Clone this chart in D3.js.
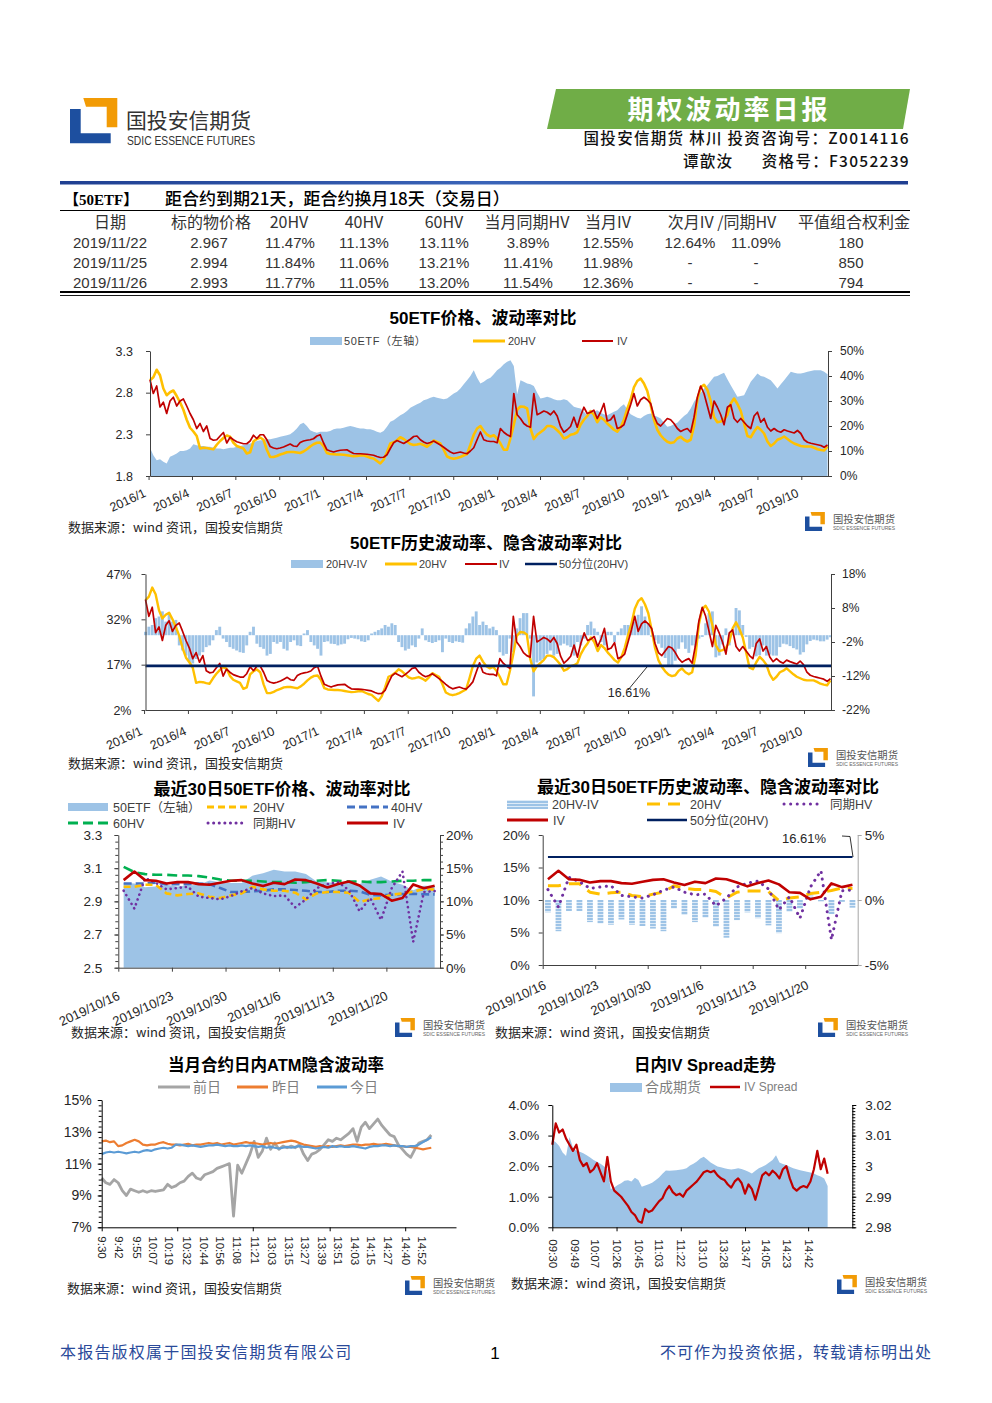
<!DOCTYPE html>
<html><head><meta charset="utf-8"><title>期权波动率日报</title>
<script src="https://cdn.jsdelivr.net/npm/d3@7"></script>
<style>html,body{margin:0;padding:0;background:#fff;}svg{display:block;}</style>
</head><body>
<svg id="page" width="992" height="1403" xmlns="http://www.w3.org/2000/svg"></svg>
<script>
// ================= DATA =================
const tableHeaders = ["日期","标的物价格","20HV","40HV","60HV","当月同期HV","当月IV","次月IV /同期HV","平值组合权利金"];
const tableDates = ["2019/11/22","2019/11/25","2019/11/26"];
const tablePrice = ["2.967","2.994","2.993"];
const tableHV20 = ["11.47%","11.84%","11.77%"];
const tableHV40 = ["11.13%","11.06%","11.05%"];
const tableHV60 = ["13.11%","13.21%","13.20%"];
const tableSameHV = ["3.89%","11.41%","11.54%"];
const tableIV = ["12.55%","11.98%","12.36%"];
const tableNextIV = ["12.64%","-","-"];
const tableNextSameHV = ["11.09%","-","-"];
const tablePremium = ["180","850","794"];

// long series (weekly samples from 2016-01-04)
const quarterTicks = ["2016/1","2016/4","2016/7","2016/10","2017/1","2017/4","2017/7","2017/10","2018/1","2018/4","2018/7","2018/10","2019/1","2019/4","2019/7","2019/10"];
const etfWeekly = [2.14,2.05,1.99,2.00,1.97,1.95,2.03,2.05,2.07,2.10,
 2.10,2.11,2.13,2.18,2.17,2.16,2.16,2.15,2.15,2.14,
 2.13,2.13,2.12,2.13,2.14,2.14,2.15,2.16,2.17,2.18,
 2.19,2.20,2.22,2.23,2.23,2.24,2.24,2.25,2.26,2.27,
 2.28,2.29,2.30,2.33,2.37,2.42,2.44,2.40,2.35,2.33,
 2.32,2.33,2.33,2.33,2.34,2.36,2.37,2.37,2.38,2.39,
 2.40,2.39,2.38,2.37,2.37,2.36,2.36,2.35,2.33,2.32,
 2.34,2.39,2.45,2.47,2.50,2.53,2.55,2.58,2.62,2.64,
 2.66,2.68,2.71,2.72,2.74,2.75,2.74,2.73,2.72,2.73,
 2.76,2.79,2.81,2.85,2.90,2.95,3.00,3.07,2.98,2.91,
 2.93,2.96,2.98,3.02,3.07,3.10,3.14,3.17,3.19,3.12,
 2.78,2.95,2.93,2.91,2.90,2.88,2.80,2.73,2.74,2.75,
 2.74,2.72,2.71,2.71,2.72,2.71,2.67,2.63,2.62,2.61,
 2.57,2.53,2.55,2.57,2.59,2.56,2.54,2.53,2.55,2.57,
 2.59,2.63,2.66,2.60,2.54,2.52,2.50,2.49,2.52,2.54,
 2.55,2.53,2.51,2.49,2.44,2.39,2.40,2.42,2.44,2.48,
 2.52,2.55,2.61,2.69,2.75,2.80,2.85,2.89,2.94,2.99,
 3.00,3.02,3.04,2.96,2.89,2.82,2.75,2.76,2.77,2.85,
 2.93,2.98,3.03,3.00,2.99,2.97,2.95,2.90,2.85,2.90,
 2.95,3.00,3.05,3.04,3.03,3.03,3.04,3.05,3.06,3.07,
 3.07,3.07,3.05,3.02];
const hv20Weekly = [38.3,39.5,42.5,40.3,35.0,32.3,33.5,34.2,32.0,29.5,
 26.5,22.5,19.3,17.8,16.0,11.0,11.3,11.2,10.9,10.7,
 12.5,14.0,15.2,16.2,15.7,13.3,12.0,11.5,11.0,9.0,
 9.5,13.8,14.8,15.4,14.5,10.5,7.6,7.6,8.0,8.6,
 9.0,9.5,9.6,9.6,9.4,9.2,9.8,10.7,11.8,12.7,
 13.3,13.4,11.9,9.2,8.8,8.7,8.6,8.6,8.5,8.3,
 8.1,7.9,8.0,8.2,8.3,7.8,7.3,7.0,6.0,5.0,
 6.5,9.5,13.0,13.5,14.3,15.5,14.8,13.8,12.8,12.4,
 12.6,12.9,12.4,11.7,12.8,14.2,13.6,13.0,10.5,7.8,
 7.2,6.9,7.2,7.6,8.2,8.8,12.5,16.5,19.0,20.0,
 18.0,16.5,15.8,16.3,15.0,13.0,10.5,10.5,15.0,20.5,
 26.5,27.8,27.7,27.0,19.0,14.8,16.5,17.5,18.5,20.0,
 20.0,19.5,18.3,17.0,15.0,15.5,16.5,16.8,17.5,20.5,
 22.5,24.0,26.0,24.5,21.5,23.5,22.5,21.0,19.8,18.5,
 17.7,19.5,22.5,26.8,30.5,35.5,38.0,39.0,37.0,34.0,
 28.5,22.5,18.5,16.3,14.8,13.7,13.2,13.5,15.0,15.7,
 14.5,13.8,14.5,20.0,30.5,35.5,36.5,34.5,30.0,23.5,
 21.5,21.8,22.5,24.5,29.0,31.0,28.8,26.0,21.0,16.0,
 15.5,17.8,19.6,18.5,17.0,13.8,12.0,13.0,14.5,15.0,
 15.8,14.8,13.8,13.0,12.5,12.0,11.8,11.8,11.8,11.3,
 10.7,10.4,10.2,11.8];
const ivWeekly = [38.5,33.0,36.0,27.6,29.5,25.0,30.0,31.5,28.0,30.0,
 30.8,28.0,25.0,22.5,19.0,21.0,17.8,20.0,15.0,14.3,
 14.5,16.0,17.4,13.2,15.5,14.5,13.7,13.3,12.9,12.9,
 14.0,16.3,15.0,16.5,16.5,14.5,11.8,11.2,10.9,11.2,
 11.6,12.2,12.8,12.0,11.8,13.4,14.0,14.3,14.5,14.9,
 16.0,16.5,13.2,10.5,10.0,9.6,10.0,10.3,10.4,10.5,
 9.7,9.0,8.9,8.9,8.8,8.7,8.5,8.3,7.8,7.4,
 7.5,8.5,11.0,13.3,14.2,13.6,13.0,13.8,14.7,15.8,
 16.0,14.5,13.6,13.0,13.4,14.0,13.2,12.4,11.5,10.5,
 9.6,9.0,9.3,9.6,9.2,8.9,10.0,11.3,14.5,17.6,
 14.5,14.0,13.8,13.8,13.3,19.0,17.5,16.5,15.8,33.0,
 24.5,23.0,21.0,20.0,19.5,33.0,24.5,25.2,26.0,25.5,
 24.5,26.0,24.0,19.8,17.5,18.5,19.8,23.5,19.5,24.0,
 27.5,25.0,25.5,26.3,23.0,25.5,29.0,22.0,22.5,24.3,
 19.0,19.5,20.5,24.5,28.5,33.0,28.0,30.5,31.5,30.5,
 29.0,24.0,21.0,20.0,21.5,23.0,22.5,21.0,19.0,17.8,
 18.5,19.0,17.5,23.5,31.5,36.0,33.0,28.0,23.0,30.0,
 27.5,24.5,20.5,27.5,28.5,23.0,21.5,23.0,21.5,20.0,
 19.0,24.0,25.5,21.5,23.0,19.5,18.0,19.0,18.0,17.5,
 18.5,18.0,17.6,17.2,18.2,17.0,14.5,13.5,13.1,12.8,
 12.5,12.2,11.5,12.4];
const spreadWeekly = [1.0,2.5,3.0,5.0,5.5,7.0,4.0,6.5,4.0,4.5,
 -3.0,-4.5,-6.0,-8.0,-8.3,-7.0,-6.0,-5.0,-3.5,-3.0,
 -1.5,1.5,2.5,-1.0,-2.0,-3.5,-4.0,-4.5,-5.0,-5.2,
 -3.0,1.0,2.5,-2.5,-3.5,-4.0,-6.0,-5.5,-2.0,-2.5,
 -2.0,-4.0,-4.5,-2.0,-1.5,-3.0,-3.2,0.5,1.5,-2.0,
 -3.0,-4.0,-6.0,-2.0,-1.8,-2.5,-2.6,-3.0,-2.7,-2.5,
 -1.2,-0.8,-1.0,-1.2,-1.8,-2.0,-1.5,0.5,1.0,1.5,
 2.0,3.0,2.5,3.5,3.0,-2.0,-3.5,-4.5,-4.0,-3.0,
 -3.5,-1.0,2.0,-1.5,-2.0,-2.3,-2.0,-1.5,-5.0,-1.0,
 -2.0,-2.3,-1.8,-2.0,-2.2,2.0,3.5,5.5,7.0,3.0,
 4.0,3.0,2.0,2.5,1.5,-5.0,-6.0,-5.5,-1.0,-5.0,
 2.0,5.0,6.5,6.5,-1.0,-18.0,-8.0,-7.5,-7.0,-5.5,
 -4.5,-6.0,-5.5,-3.0,-2.5,-3.0,-3.5,-6.0,-2.0,-3.0,
 -1.0,3.0,4.0,2.0,1.0,-2.0,-3.0,1.0,1.0,-2.0,
 1.0,2.0,3.0,3.0,3.5,4.0,6.0,8.5,5.5,3.5,
 -0.5,-1.5,-2.5,-3.7,-6.7,-9.3,-9.3,-7.5,-4.0,-2.1,
 -4.0,-5.2,-3.0,-3.5,-1.0,-0.5,3.5,6.5,7.0,-6.5,
 -6.0,-2.7,2.0,-3.0,0.5,8.0,7.3,3.0,-0.5,-4.0,
 -3.5,-6.2,-5.9,-3.0,-6.0,-5.7,-6.0,-6.0,-3.5,-2.5,
 -2.7,-3.2,-3.8,-4.2,-5.7,-5.0,-2.7,-1.7,-1.3,-1.5,
 -1.8,-1.8,-1.3,-0.6];
const hv20Median = 16.61;

// last 30 trading days
const dates30 = ["2019/10/16","2019/10/17","2019/10/18","2019/10/21","2019/10/22","2019/10/23","2019/10/24","2019/10/25","2019/10/28","2019/10/29","2019/10/30","2019/10/31","2019/11/1","2019/11/4","2019/11/5","2019/11/6","2019/11/7","2019/11/8","2019/11/11","2019/11/12","2019/11/13","2019/11/14","2019/11/15","2019/11/18","2019/11/19","2019/11/20","2019/11/21","2019/11/22","2019/11/25","2019/11/26"];
const etf30 = [3.010,3.007,2.985,2.990,3.000,2.990,2.995,3.000,3.025,3.015,3.010,3.010,3.055,3.070,3.090,3.080,3.080,3.065,3.020,3.015,3.010,3.015,3.005,3.030,3.050,3.020,3.000,2.967,2.994,2.993];
const hv20_30 = [12.2,12.2,12.5,12.5,11.2,10.9,11.1,11.2,10.7,10.5,10.9,11.2,12.2,11.8,11.6,11.6,11.3,10.3,11.2,11.4,11.4,11.3,9.9,10.3,10.5,11.0,11.2,11.47,11.84,11.77];
const hv40_30 = [12.7,12.7,12.7,12.8,12.6,12.6,12.6,12.7,12.6,12.0,11.4,11.4,11.5,11.6,11.8,11.8,11.7,11.6,11.4,11.4,11.6,11.6,11.5,11.0,10.9,11.0,11.1,11.13,11.06,11.05];
const hv60_30 = [15.2,14.4,14.1,14.0,14.0,13.9,13.9,13.8,13.6,13.3,13.1,13.1,13.1,13.0,12.9,12.9,12.8,12.9,13.1,13.2,13.1,13.0,13.0,12.9,12.9,13.0,13.1,13.11,13.21,13.20];
const sameHV30 = [11.6,8.9,13.5,12.8,11.8,12.0,12.2,10.7,10.5,10.3,10.8,11.5,12.0,11.2,10.8,10.9,9.1,10.3,12.0,12.6,12.9,11.7,8.5,10.5,7.2,12.0,14.5,3.89,11.41,11.54];
const iv30 = [13.2,14.5,13.2,13.1,12.7,12.9,12.9,12.6,12.5,12.8,13.1,13.2,12.7,12.3,12.8,12.6,13.3,13.2,12.7,12.1,12.6,13.0,12.4,11.2,11.1,10.1,10.5,12.55,11.98,12.36];
const spread30 = [-0.95,-2.4,-0.85,-0.85,-1.7,-1.8,-1.9,-1.5,-1.9,-2.0,-2.2,-2.4,-0.65,-1.15,-1.7,-1.35,-2.05,-2.9,-1.55,-0.95,-1.4,-1.95,-2.55,-0.9,-0.65,0.35,-0.1,-1.08,-0.14,-0.59];

// intraday (3-minute samples, 9:30-11:30 then 13:00-15:00)
const atmTicks = ["9:30","9:42","9:55","10:07","10:19","10:32","10:44","10:56","11:08","11:21","13:03","13:15","13:27","13:39","13:51","14:03","14:15","14:27","14:40","14:52"];
const ivPrevDay = [10.1,9.8,9.7,10.0,9.8,9.3,9.0,9.4,9.3,9.2,
 9.3,9.2,9.3,9.25,9.3,9.35,9.7,9.5,9.6,9.8,
 9.9,10.2,10.4,10.1,10.0,10.3,10.4,10.5,10.7,10.8,
 10.9,11.0,7.7,10.9,10.4,11.0,11.6,12.4,11.4,11.8,
 12.6,11.9,12.3,11.9,12.1,12.0,12.1,12.0,12.2,11.6,
 11.2,11.6,11.7,11.9,12.2,12.5,12.4,12.6,12.5,12.7,
 12.9,13.2,12.4,13.3,13.6,13.2,13.5,13.8,13.4,13.1,
 12.8,12.7,12.2,11.9,11.6,11.4,11.9,12.3,12.4,12.5,
 12.8];
const ivYesterday = [12.4,12.45,12.35,12.4,12.1,12.15,12.3,12.4,12.5,12.4,
 12.2,12.15,12.2,12.2,12.3,12.35,12.25,12.2,12.2,12.15,
 12.2,12.25,12.15,12.2,12.2,12.25,12.3,12.25,12.3,12.2,
 12.25,12.3,12.2,12.25,12.3,12.35,12.3,12.3,12.25,12.2,
 12.25,12.3,12.25,12.3,12.35,12.4,12.45,12.4,12.3,12.2,
 12.15,12.1,12.05,12.1,12.05,12.1,12.05,12.1,12.15,12.1,
 12.15,12.2,12.2,12.15,12.2,12.2,12.25,12.2,12.2,12.25,
 12.2,12.15,12.1,12.1,12.05,12.05,12.0,11.95,11.9,11.95,
 12.0];
const ivToday = [11.6,11.7,11.75,11.7,11.75,11.7,11.65,11.7,11.75,11.7,
 11.8,11.85,11.8,11.9,11.95,12.0,11.95,12.0,12.2,12.2,
 12.15,12.1,12.15,12.1,12.05,12.1,12.15,12.15,12.2,12.15,
 12.1,12.15,12.1,12.1,12.15,12.1,12.15,12.1,12.05,12.1,
 12.0,12.05,12.0,11.95,12.0,12.05,12.0,12.05,12.1,12.05,
 12.05,12.0,11.95,12.0,12.05,12.0,12.1,12.05,12.1,12.05,
 12.05,12.1,12.05,12.0,11.95,12.05,12.1,12.1,12.15,12.15,
 12.1,12.15,12.1,12.1,12.05,12.1,12.1,12.2,12.35,12.5,
 12.65];
const spreadTicks = ["09:30","09:49","10:07","10:26","10:45","11:03","11:22","13:10","13:28","13:47","14:05","14:23","14:42"];
const ivSpread = [2.7,3.4,3.1,3.2,2.9,2.7,2.5,2.7,2.2,2.0,
 2.1,1.8,1.9,2.1,1.8,1.5,2.3,1.5,1.2,1.1,
 1.0,0.85,0.7,0.5,0.4,0.2,0.15,0.6,0.5,0.55,
 0.7,0.85,0.95,1.2,1.35,1.15,1.05,1.1,1.0,1.2,
 1.3,1.4,1.5,1.65,1.8,1.85,1.8,1.85,1.7,1.6,
 1.55,1.4,1.3,1.5,1.6,1.45,1.1,1.4,1.25,0.9,
 1.3,1.7,1.8,1.7,1.85,1.75,1.6,1.9,2.0,1.6,
 1.3,1.2,1.3,1.35,1.3,1.5,1.9,2.5,1.9,2.25,
 1.75];
const synthFut = [3.0086,3.0078,3.0066,3.0045,3.0033,3.0095,3.0060,3.0050,3.0047,3.0042,
 3.0036,3.0028,3.0020,3.0014,3.0008,3.0000,2.9990,2.9925,2.9930,2.9938,
 2.9944,2.9952,2.9954,2.9950,2.9962,2.9955,2.9933,2.9937,2.9941,2.9946,
 2.9954,2.9963,2.9975,2.9986,2.9985,2.9986,2.9987,2.9988,2.9990,2.9993,
 3.0002,3.0008,3.0015,3.0025,3.0031,3.0022,3.0012,3.0005,2.9999,2.9996,
 2.9993,2.9991,2.9989,2.9991,2.9993,2.9991,2.9987,2.9982,2.9976,2.9985,
 2.9993,2.9998,3.0004,3.0012,3.0020,3.0036,3.0012,3.0007,3.0004,2.9998,
 2.9993,2.9990,2.9987,2.9984,2.9982,2.9979,2.9976,2.9970,2.9966,2.9960,
 2.9935];

// ================= DRAW =================
const svg = d3.select("#page");
const F = "'Liberation Sans','Noto Sans CJK SC',sans-serif";
const FC = "'Noto Sans CJK SC','Liberation Sans',sans-serif";
const C = {area:"#9dc3e6", yellow:"#ffc000", red:"#c00000", navy:"#002060", blue2:"#4472c4", green:"#00b050",
  purple:"#7030a0", gray:"#a5a5a5", orange:"#ed7d31", lblue:"#5b9bd5", axis:"#404040", text:"#262626"};

function T(g,x,y,s,o={}){
  const t=g.append("text").attr("x",x).attr("y",y).text(s)
    .attr("font-family",o.ff||F).attr("font-size",o.fs||13).attr("fill",o.fill||C.text)
    .attr("text-anchor",o.anchor||"start");
  if(o.fw) t.attr("font-weight",o.fw);
  if(o.ls!==undefined) t.attr("letter-spacing",o.ls);
  if(o.tl) t.attr("textLength",o.tl).attr("lengthAdjust","spacingAndGlyphs");
  return t;
}
function L(g,x1,y1,x2,y2,color,w,dash,cap){
  const l=g.append("line").attr("x1",x1).attr("y1",y1).attr("x2",x2).attr("y2",y2)
   .attr("stroke",color).attr("stroke-width",w);
  if(dash) l.attr("stroke-dasharray",dash);
  if(cap) l.attr("stroke-linecap",cap);
  return l;
}
function styleAxis(a,fs,color){
  a.attr("font-family",F).attr("font-size",fs);
  a.select(".domain").attr("stroke",color||C.axis);
  a.selectAll(".tick line").attr("stroke",color||C.axis);
  a.selectAll(".tick text").attr("fill",C.text);
}
function yAxis(g,orient,scale,xpos,ticks,fmt,fs,pad,color,minor){
  const mk=()=>orient==="left"?d3.axisLeft(scale):d3.axisRight(scale);
  const a=g.append("g").attr("transform",`translate(${xpos},0)`)
    .call(mk().tickValues(ticks).tickFormat(fmt).tickSize(4).tickSizeOuter(0).tickPadding(pad));
  styleAxis(a,fs,color);
  if(minor){
    const b=g.append("g").attr("transform",`translate(${xpos},0)`)
      .call(mk().tickValues(minor).tickFormat("").tickSize(3).tickSizeOuter(0));
    b.select(".domain").remove();
    b.selectAll("line").attr("stroke",color||C.axis);
  }
  return a;
}
function xAxisRot(g,axis,y,fs,dx,dy,ang){
  const a=g.append("g").attr("transform",`translate(0,${y})`).call(axis);
  styleAxis(a,fs);
  a.selectAll(".tick text").attr("x",0).attr("y",0).attr("dy","0.35em").attr("text-anchor","end")
    .attr("transform",`translate(${dx},${dy}) rotate(${ang})`);
  return a;
}
function smallLogo(g,x,y){
  const G=g.append("g").attr("transform",`translate(${x},${y})`);
  const I=G.append("g").attr("transform","scale(0.42)");
  I.append("polygon").attr("points","0,11 10.7,11 10.7,35.3 40.7,35.3 40.7,45.3 0,45.3").attr("fill","#1d4f9f");
  I.append("polygon").attr("points","13.3,0 47.3,0 47.3,29.3 36.7,29.3 36.7,8.7 16,8.7").attr("fill","#f29b05");
  T(G,28,11,"国投安信期货",{ff:FC,fs:10,fill:"#555",tl:62});
  T(G,28,17.5,"SDIC ESSENCE FUTURES",{fs:5,fill:"#666",tl:62});
}
const SRC="数据来源：wind 资讯，国投安信期货";

// ---- defs
const defs=svg.append("defs");
const gr=defs.append("linearGradient").attr("id","hdrLine").attr("x1","0").attr("x2","1");
gr.append("stop").attr("offset","0").attr("stop-color","#1f3f91");
gr.append("stop").attr("offset","0.5").attr("stop-color","#3a64b8");
gr.append("stop").attr("offset","1").attr("stop-color","#1f3f91");
const pat=defs.append("pattern").attr("id","barPat").attr("width",4).attr("height",3).attr("patternUnits","userSpaceOnUse");
pat.append("rect").attr("width",4).attr("height",3).attr("fill","#deebf7");
pat.append("rect").attr("width",4).attr("height",2).attr("fill","#9dc3e6");

// ---- header
{
  const g=svg.append("g").attr("transform","translate(70,98)");
  g.append("polygon").attr("points","0,11 10.7,11 10.7,35.3 40.7,35.3 40.7,45.3 0,45.3").attr("fill","#1d4f9f");
  g.append("polygon").attr("points","13.3,0 47.3,0 47.3,29.3 36.7,29.3 36.7,8.7 16,8.7").attr("fill","#f29b05");
  T(g,56,30,"国投安信期货",{ff:FC,fs:21,fill:"#333",tl:125});
  T(g,57,47,"SDIC ESSENCE FUTURES",{ff:"'Liberation Sans Narrow','Liberation Sans',sans-serif",fs:12,fill:"#333",tl:128});
  svg.append("polygon").attr("points","556,89 910,89 903,129 547,129").attr("fill","#70ad47");
  T(svg,729,119,"期权波动率日报",{ff:FC,fs:26,fw:"bold",fill:"#fff",anchor:"middle",ls:3});
  T(svg,910,144,"国投安信期货 林川 投资咨询号：Z0014116",{ff:FC,fs:15.5,fw:500,fill:"#111",anchor:"end",ls:1.3});
  T(svg,683,167,"谭歆汝",{ff:FC,fs:15.5,fw:500,fill:"#111",ls:1.3});
  T(svg,910,167,"资格号：F3052239",{ff:FC,fs:15.5,fw:500,fill:"#111",anchor:"end",ls:1.3});
  svg.append("rect").attr("x",60).attr("y",181).attr("width",848).attr("height",3.5).attr("fill","url(#hdrLine)");
}

// ---- table
{
  const g=svg.append("g");
  T(g,64,205,"【50ETF】",{ff:"'Liberation Serif','Noto Sans CJK SC',serif",fs:15,fw:"bold",fill:"#000"});
  T(g,165,205,"距合约到期21天，距合约换月18天（交易日）",{ff:FC,fs:17,fw:500,fill:"#000"});
  L(g,60,210.5,910,210.5,"#000",1);
  const hx=[110,211,289,364,444,527,608,722,854];
  tableHeaders.forEach((h,i)=>T(g,hx[i],228,h,{ff:FC,fs:16,fill:"#333",anchor:"middle"}));
  const vx=[110,209,290,364,444,528,608,690,756,851];
  const cols=[tableDates,tablePrice,tableHV20,tableHV40,tableHV60,tableSameHV,tableIV,tableNextIV,tableNextSameHV,tablePremium];
  for(let r=0;r<3;r++){
    cols.forEach((col,c)=>T(g,vx[c],248+r*20,col[r],{fs:15,fill:"#333",anchor:"middle"}));
  }
  L(g,60,292,910,292,"#000",1.8);
  L(g,60,295.5,910,295.5,"#000",0.9);
}

const wkDates = etfWeekly.map((d,i)=>d3.timeDay.offset(new Date(2016,0,4),i*7));
const qDates = quarterTicks.map(s=>{const p=s.split("/").map(Number);return new Date(p[0],p[1]-1,1);});
const dStart=new Date(2016,0,4), dEnd=new Date(2019,10,26);

// ---- chart 1
{
  const g=svg.append("g");
  const x=d3.scaleTime().domain([dStart,dEnd]).range([150,828]);
  const yL=d3.scaleLinear().domain([1.8,3.3]).range([476,351]);
  const yR=d3.scaleLinear().domain([0,50]).range([476,351]);
  g.append("path").datum(etfWeekly).attr("fill",C.area)
    .attr("d",d3.area().x((d,i)=>x(wkDates[i])).y0(yL(1.8)).y1(d=>yL(d)));
  g.append("path").datum(hv20Weekly).attr("fill","none").attr("stroke",C.yellow).attr("stroke-width",2.6).attr("stroke-linejoin","round")
    .attr("d",d3.line().x((d,i)=>x(wkDates[i])).y(d=>yR(d)));
  g.append("path").datum(ivWeekly).attr("fill","none").attr("stroke",C.red).attr("stroke-width",1.7).attr("stroke-linejoin","round")
    .attr("d",d3.line().x((d,i)=>x(wkDates[i])).y(d=>yR(d)));
  yAxis(g,"left",yL,150,[1.8,2.3,2.8,3.3],d3.format(".1f"),12.5,13);
  yAxis(g,"right",yR,828,[0,10,20,30,40,50],d=>d+"%",12,8);
  xAxisRot(g,d3.axisBottom(x).tickValues(qDates).tickFormat((d,i)=>quarterTicks[i]).tickSize(4).tickSizeOuter(0),476,12.5,-4,16,-25);
  T(g,483,324,"50ETF价格、波动率对比",{fs:17,fw:"bold",fill:"#000",anchor:"middle"});
  g.append("rect").attr("x",310).attr("y",337).attr("width",32).attr("height",8).attr("fill",C.area);
  T(g,344,345,"50ETF（左轴）",{fs:11,fill:"#404040",ls:0.6});
  L(g,473,341,505,341,C.yellow,3);
  T(g,508,345,"20HV",{fs:11,fill:"#404040"});
  L(g,582,341,613,341,C.red,2);
  T(g,617,345,"IV",{fs:11,fill:"#404040"});
  T(g,68,532,SRC,{ff:FC,fs:13});
  smallLogo(g,805,512);
}

// ---- chart 2
{
  const g=svg.append("g");
  const x=d3.scaleTime().domain([dStart,dEnd]).range([145.5,831]);
  const yL=d3.scaleLinear().domain([2,47]).range([710,574]);
  const yR=d3.scaleLinear().domain([-22,18]).range([710,574]);
  const bw=(x(wkDates[1])-x(wkDates[0]))*0.85;
  g.selectAll("rect.sp").data(spreadWeekly).join("rect").attr("class","sp")
    .attr("x",(d,i)=>x(wkDates[i])-bw/2).attr("width",bw)
    .attr("y",d=>yR(Math.max(0,d))).attr("height",d=>Math.abs(yR(d)-yR(0)))
    .attr("fill",C.area);
  g.append("path").datum(hv20Weekly).attr("fill","none").attr("stroke",C.yellow).attr("stroke-width",2.4).attr("stroke-linejoin","round")
    .attr("d",d3.line().x((d,i)=>x(wkDates[i])).y(d=>yL(d)));
  g.append("path").datum(ivWeekly).attr("fill","none").attr("stroke",C.red).attr("stroke-width",1.7).attr("stroke-linejoin","round")
    .attr("d",d3.line().x((d,i)=>x(wkDates[i])).y(d=>yL(d)));
  g.append("path").datum([dStart,dEnd]).attr("fill","none").attr("stroke",C.navy).attr("stroke-width",2.8)
    .attr("d",d3.line().x(d=>x(d)).y(()=>yL(hv20Median)));
  yAxis(g,"left",yL,145.5,[2,17,32,47],d=>d+"%",12.5,10);
  yAxis(g,"right",yR,831,[-22,-12,-2,8,18],d=>d+"%",12,7);
  xAxisRot(g,d3.axisBottom(x).tickValues(qDates).tickFormat((d,i)=>quarterTicks[i]).tickSize(4).tickSizeOuter(0),710,12.5,-3,20,-25);
  L(g,628,690,647,667,"#000",0.8);
  T(g,629,697,hv20Median.toFixed(2)+"%",{fs:12.5,anchor:"middle"});
  T(g,486,549,"50ETF历史波动率、隐含波动率对比",{fs:17,fw:"bold",fill:"#000",anchor:"middle"});
  g.append("rect").attr("x",291).attr("y",560).attr("width",32).attr("height",8).attr("fill",C.area);
  T(g,326,568,"20HV-IV",{fs:11,fill:"#404040"});
  L(g,385,564,417,564,C.yellow,3);
  T(g,419,568,"20HV",{fs:11,fill:"#404040"});
  L(g,465,564,497,564,C.red,2);
  T(g,499,568,"IV",{fs:11,fill:"#404040"});
  L(g,525,564,557,564,C.navy,2.5);
  T(g,559,568,"50分位(20HV)",{fs:11,fill:"#404040"});
  T(g,68,768,SRC,{ff:FC,fs:13});
  smallLogo(g,808,748);
}

// ---- chart 3
{
  const g=svg.append("g");
  const x=d3.scaleLinear().domain([0,dates30.length]).range([118.3,440]);
  const yL=d3.scaleLinear().domain([2.5,3.3]).range([967.7,835]);
  const yR=d3.scaleLinear().domain([0,20]).range([967.7,835]);
  g.append("path").datum(etf30).attr("fill",C.area)
    .attr("d",d3.area().x((d,i)=>x(i+0.5)).y0(yL(2.5)).y1(d=>yL(d)));
  const ln=d3.line().x((d,i)=>x(i+0.5)).y(d=>yR(d));
  const draw=(data,color,w,dash,cap)=>{const p=g.append("path").datum(data).attr("fill","none").attr("stroke",color)
    .attr("stroke-width",w).attr("stroke-linejoin","round").attr("d",ln); if(dash)p.attr("stroke-dasharray",dash); if(cap)p.attr("stroke-linecap",cap);};
  draw(hv60_30,C.green,2.6,"10,5");
  draw(hv40_30,C.blue2,2.6,"8,4");
  draw(hv20_30,C.yellow,2.6,"7,4");
  draw(sameHV30,C.purple,2.6,"0.1,5","round");
  draw(iv30,C.red,2.6);
  yAxis(g,"left",yL,118.3,[2.5,2.7,2.9,3.1,3.3],d3.format(".1f"),13.5,12,null,d3.range(2.5,3.301,0.04));
  yAxis(g,"right",yR,440,[0,5,10,15,20],d=>d+"%",13.5,2,null,d3.range(0,20.01,1));
  xAxisRot(g,d3.axisBottom(x).tickValues([0,5,10,15,20,25]).tickFormat(i=>dates30[i]).tickSize(4).tickSizeOuter(0),967.7,13,0,27,-25);
  T(g,282,795,"最近30日50ETF价格、波动率对比",{fs:17,fw:"bold",fill:"#000",anchor:"middle"});
  g.append("rect").attr("x",68).attr("y",803).attr("width",40).attr("height",8).attr("fill",C.area);
  T(g,113,812,"50ETF（左轴）",{fs:12.5,fill:"#404040"});
  L(g,207,807,250,807,C.yellow,3,"7,4");
  T(g,253,812,"20HV",{fs:12.5,fill:"#404040"});
  L(g,347,807,388,807,C.blue2,3,"8,4");
  T(g,391,812,"40HV",{fs:12.5,fill:"#404040"});
  L(g,68,823,110,823,C.green,3,"10,5");
  T(g,113,828,"60HV",{fs:12.5,fill:"#404040"});
  L(g,208,823,247,823,C.purple,3,"0.1,5.5","round");
  T(g,253,828,"同期HV",{fs:12.5,fill:"#404040"});
  L(g,347,823,388,823,C.red,3);
  T(g,393,828,"IV",{fs:12.5,fill:"#404040"});
  T(g,71,1037,SRC,{ff:FC,fs:13});
  smallLogo(g,395,1018);
}

// ---- chart 4
{
  const g=svg.append("g");
  const x=d3.scaleLinear().domain([0,dates30.length]).range([542.7,857.7]);
  const yL=d3.scaleLinear().domain([0,20]).range([965,835]);
  const yR=d3.scaleLinear().domain([-5,5]).range([965,835]);
  const bw=(x(1)-x(0))*0.55;
  g.selectAll("rect.sp").data(spread30).join("rect").attr("class","sp")
    .attr("x",(d,i)=>x(i+0.5)-bw/2).attr("width",bw)
    .attr("y",d=>yR(Math.max(0,d))).attr("height",d=>Math.abs(yR(d)-yR(0)))
    .attr("fill","url(#barPat)");
  g.append("path").datum([0,dates30.length-1]).attr("fill","none").attr("stroke",C.navy).attr("stroke-width",2)
    .attr("d",d3.line().x(d=>x(d+0.5)).y(()=>yL(hv20Median)));
  const ln=d3.line().x((d,i)=>x(i+0.5)).y(d=>yL(d));
  const draw=(data,color,w,dash,cap)=>{const p=g.append("path").datum(data).attr("fill","none").attr("stroke",color)
    .attr("stroke-width",w).attr("stroke-linejoin","round").attr("d",ln); if(dash)p.attr("stroke-dasharray",dash); if(cap)p.attr("stroke-linecap",cap);};
  draw(hv20_30,C.yellow,3,"13,8");
  draw(sameHV30,C.purple,3,"0.1,6.5","round");
  draw(iv30,C.red,2.6);
  yAxis(g,"left",yL,542.7,[0,5,10,15,20],d=>d+"%",13.5,9);
  yAxis(g,"right",yR,857.7,[-5,0,5],d=>d+"%",13.5,3,"#a6a6a6");
  xAxisRot(g,d3.axisBottom(x).tickValues([0,5,10,15,20,25]).tickFormat(i=>dates30[i]).tickSize(4).tickSizeOuter(0),965,13,2,19,-25);
  g.append("polyline").attr("points","842,836 850,836.5 853,857").attr("fill","none").attr("stroke","#000").attr("stroke-width",0.8);
  T(g,804,843,hv20Median.toFixed(2)+"%",{fs:13,anchor:"middle"});
  T(g,708,793,"最近30日50ETF历史波动率、隐含波动率对比",{fs:17,fw:"bold",fill:"#000",anchor:"middle"});
  g.append("rect").attr("x",507).attr("y",800).attr("width",41).attr("height",9).attr("fill","url(#barPat)");
  T(g,552,809,"20HV-IV",{fs:12.5,fill:"#404040"});
  L(g,647,804,680,804,C.yellow,3,"13,8");
  T(g,690,809,"20HV",{fs:12.5,fill:"#404040"});
  L(g,784,804,823,804,C.purple,3,"0.1,6.5","round");
  T(g,830,809,"同期HV",{fs:12.5,fill:"#404040"});
  L(g,507,820,548,820,C.red,3);
  T(g,553,825,"IV",{fs:12.5,fill:"#404040"});
  L(g,647,820,687,820,C.navy,2.5);
  T(g,690,825,"50分位(20HV)",{fs:12.5,fill:"#404040"});
  T(g,495,1037,SRC,{ff:FC,fs:13});
  smallLogo(g,818,1018);
}

function timeIdx(s){const p=s.split(":").map(Number);const t=p[0]*60+p[1];return t<=690?t-570:t-780+121;}

// ---- chart 5
{
  const g=svg.append("g");
  const x=d3.scaleLinear().domain([0,258]).range([101.7,456]);
  const y=d3.scaleLinear().domain([7,15]).range([1227.3,1100]);
  const ln=d3.line().x((d,i)=>x(i*3)).y(d=>y(d));
  g.append("path").datum(ivPrevDay).attr("fill","none").attr("stroke",C.gray).attr("stroke-width",2.8).attr("stroke-linejoin","round").attr("d",ln);
  g.append("path").datum(ivYesterday).attr("fill","none").attr("stroke",C.orange).attr("stroke-width",2.2).attr("stroke-linejoin","round").attr("d",ln);
  g.append("path").datum(ivToday).attr("fill","none").attr("stroke",C.lblue).attr("stroke-width",2.2).attr("stroke-linejoin","round").attr("d",ln);
  yAxis(g,"left",y,101.7,[7,9,11,13,15],d=>d+"%",14,6,"#000",d3.range(0,24.01,1).map(k=>7+k/3));
  const a=g.append("g").attr("transform","translate(0,1227.3)").call(d3.axisBottom(x).tickValues([0,55,110,166,221]).tickFormat("").tickSize(4).tickSizeOuter(0));
  styleAxis(a,11.5,"#000");
  const b=g.append("g").attr("transform","translate(0,1227.3)").call(d3.axisBottom(x).tickValues(atmTicks.map(timeIdx)).tickFormat((d,i)=>atmTicks[i]).tickSize(0));
  styleAxis(b,11.5,"#000"); b.select(".domain").remove();
  b.selectAll(".tick text").attr("x",0).attr("y",0).attr("dy","0.35em").attr("text-anchor","start").attr("transform","translate(0,9) rotate(90)");
  T(g,276,1071,"当月合约日内ATM隐含波动率",{fs:16.5,fw:"bold",fill:"#000",anchor:"middle"});
  L(g,158,1087,190,1087,C.gray,3);
  T(g,193,1092,"前日",{ff:FC,fs:14,fill:"#7f7f7f"});
  L(g,237,1087,268,1087,C.orange,3);
  T(g,272,1092,"昨日",{ff:FC,fs:14,fill:"#7f7f7f"});
  L(g,317,1087,347,1087,C.lblue,3);
  T(g,350,1092,"今日",{ff:FC,fs:14,fill:"#7f7f7f"});
  T(g,67,1293,SRC,{ff:FC,fs:13});
  smallLogo(g,405,1276);
}

// ---- chart 6
{
  const g=svg.append("g");
  const x=d3.scaleLinear().domain([0,261.5]).range([552.3,852.3]);
  const yL=d3.scaleLinear().domain([0,4]).range([1227.3,1105]);
  const yR=d3.scaleLinear().domain([2.98,3.02]).range([1227.3,1105]);
  g.append("path").datum(synthFut).attr("fill",C.area)
    .attr("d",d3.area().x((d,i)=>x(i*3)).y0(yR(2.98)).y1(d=>yR(d)));
  g.append("path").datum(ivSpread).attr("fill","none").attr("stroke",C.red).attr("stroke-width",2.2).attr("stroke-linejoin","round")
    .attr("d",d3.line().x((d,i)=>x(i*3)).y(d=>yL(d)));
  yAxis(g,"left",yL,552.3,[0,1,2,3,4],d=>d.toFixed(1)+"%",13.5,9,"#000");
  yAxis(g,"right",yR,852.3,[2.98,2.99,3.00,3.01,3.02],d=>String(+d.toFixed(2)),13.5,9,"#000",d3.range(0,40.01,1).map(k=>2.98+k*0.001));
  const a=g.append("g").attr("transform","translate(0,1227.3)").call(d3.axisBottom(x).tickValues(["09:30","10:26","11:22","13:47","14:42"].map(timeIdx)).tickFormat("").tickSize(4).tickSizeOuter(0));
  styleAxis(a,11.5,"#000");
  const b=g.append("g").attr("transform","translate(0,1227.3)").call(d3.axisBottom(x).tickValues(spreadTicks.map(timeIdx)).tickFormat((d,i)=>spreadTicks[i]).tickSize(0));
  styleAxis(b,11.5,"#000"); b.select(".domain").remove();
  b.selectAll(".tick text").attr("x",0).attr("y",0).attr("dy","0.35em").attr("text-anchor","start").attr("transform","translate(0,12) rotate(90)");
  T(g,705,1071,"日内IV Spread走势",{fs:16.5,fw:"bold",fill:"#000",anchor:"middle"});
  g.append("rect").attr("x",610).attr("y",1083).attr("width",32).attr("height",9).attr("fill",C.area);
  T(g,645,1092,"合成期货",{ff:FC,fs:14,fill:"#7f7f7f"});
  L(g,710,1087,740,1087,C.red,2.5);
  T(g,744,1091,"IV Spread",{fs:12,fill:"#7f7f7f"});
  T(g,511,1288,SRC,{ff:FC,fs:13});
  smallLogo(g,837,1275);
}

// ---- footer
T(svg,60,1358,"本报告版权属于国投安信期货有限公司",{ff:FC,fs:16,fill:"#2a4a9a",ls:1.2});
T(svg,495,1359,"1",{fs:17,fill:"#000",anchor:"middle"});
T(svg,932,1358,"不可作为投资依据，转载请标明出处",{ff:FC,fs:16,fill:"#2a4a9a",ls:1,anchor:"end"});
</script>
</body></html>
